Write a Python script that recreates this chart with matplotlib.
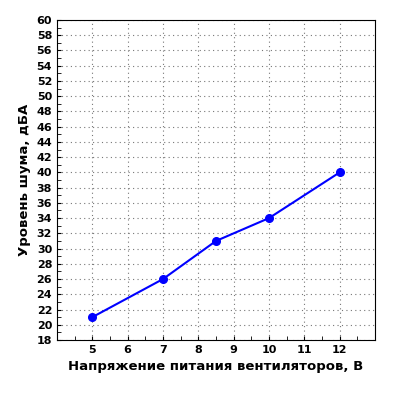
import matplotlib
matplotlib.use("Agg")
import matplotlib.pyplot as plt

voltage = [5, 7, 8.5, 10, 12]
noise = [21, 26, 31, 34, 40]
xticks = [5, 6, 7, 8, 9, 10, 11, 12]
yticks = list(range(18, 61, 2))

fig = plt.figure(figsize=(4, 4), dpi=100)
ax = fig.add_axes([57/400, 60/400, 318/400, 320/400])
ax.plot(voltage, noise, color="#0000ff", lw=1.5, marker="o", ms=5.5, zorder=3)
ax.set_xlim(4, 13)
ax.set_ylim(18, 60)
ax.set_xticks(xticks)
ax.set_yticks(yticks)
ax.set_xticks([x + 0.5 for x in range(4, 13)], minor=True)
ax.set_yticks([y + 1 for y in range(18, 60, 2)], minor=True)
ax.grid(True, which="major", color="#777777", linestyle=(0, (1, 3)), lw=0.8)
ax.tick_params(which="both", direction="in", labelsize=8, length=3)
for lab in ax.get_xticklabels() + ax.get_yticklabels():
    lab.set_fontweight("bold")
ax.set_xlabel("Напряжение питания вентиляторов, В", fontsize=9.5, fontweight="bold")
ax.set_ylabel("Уровень шума, дБА", fontsize=9.5, fontweight="bold")
fig.savefig("out.png", dpi=100)
